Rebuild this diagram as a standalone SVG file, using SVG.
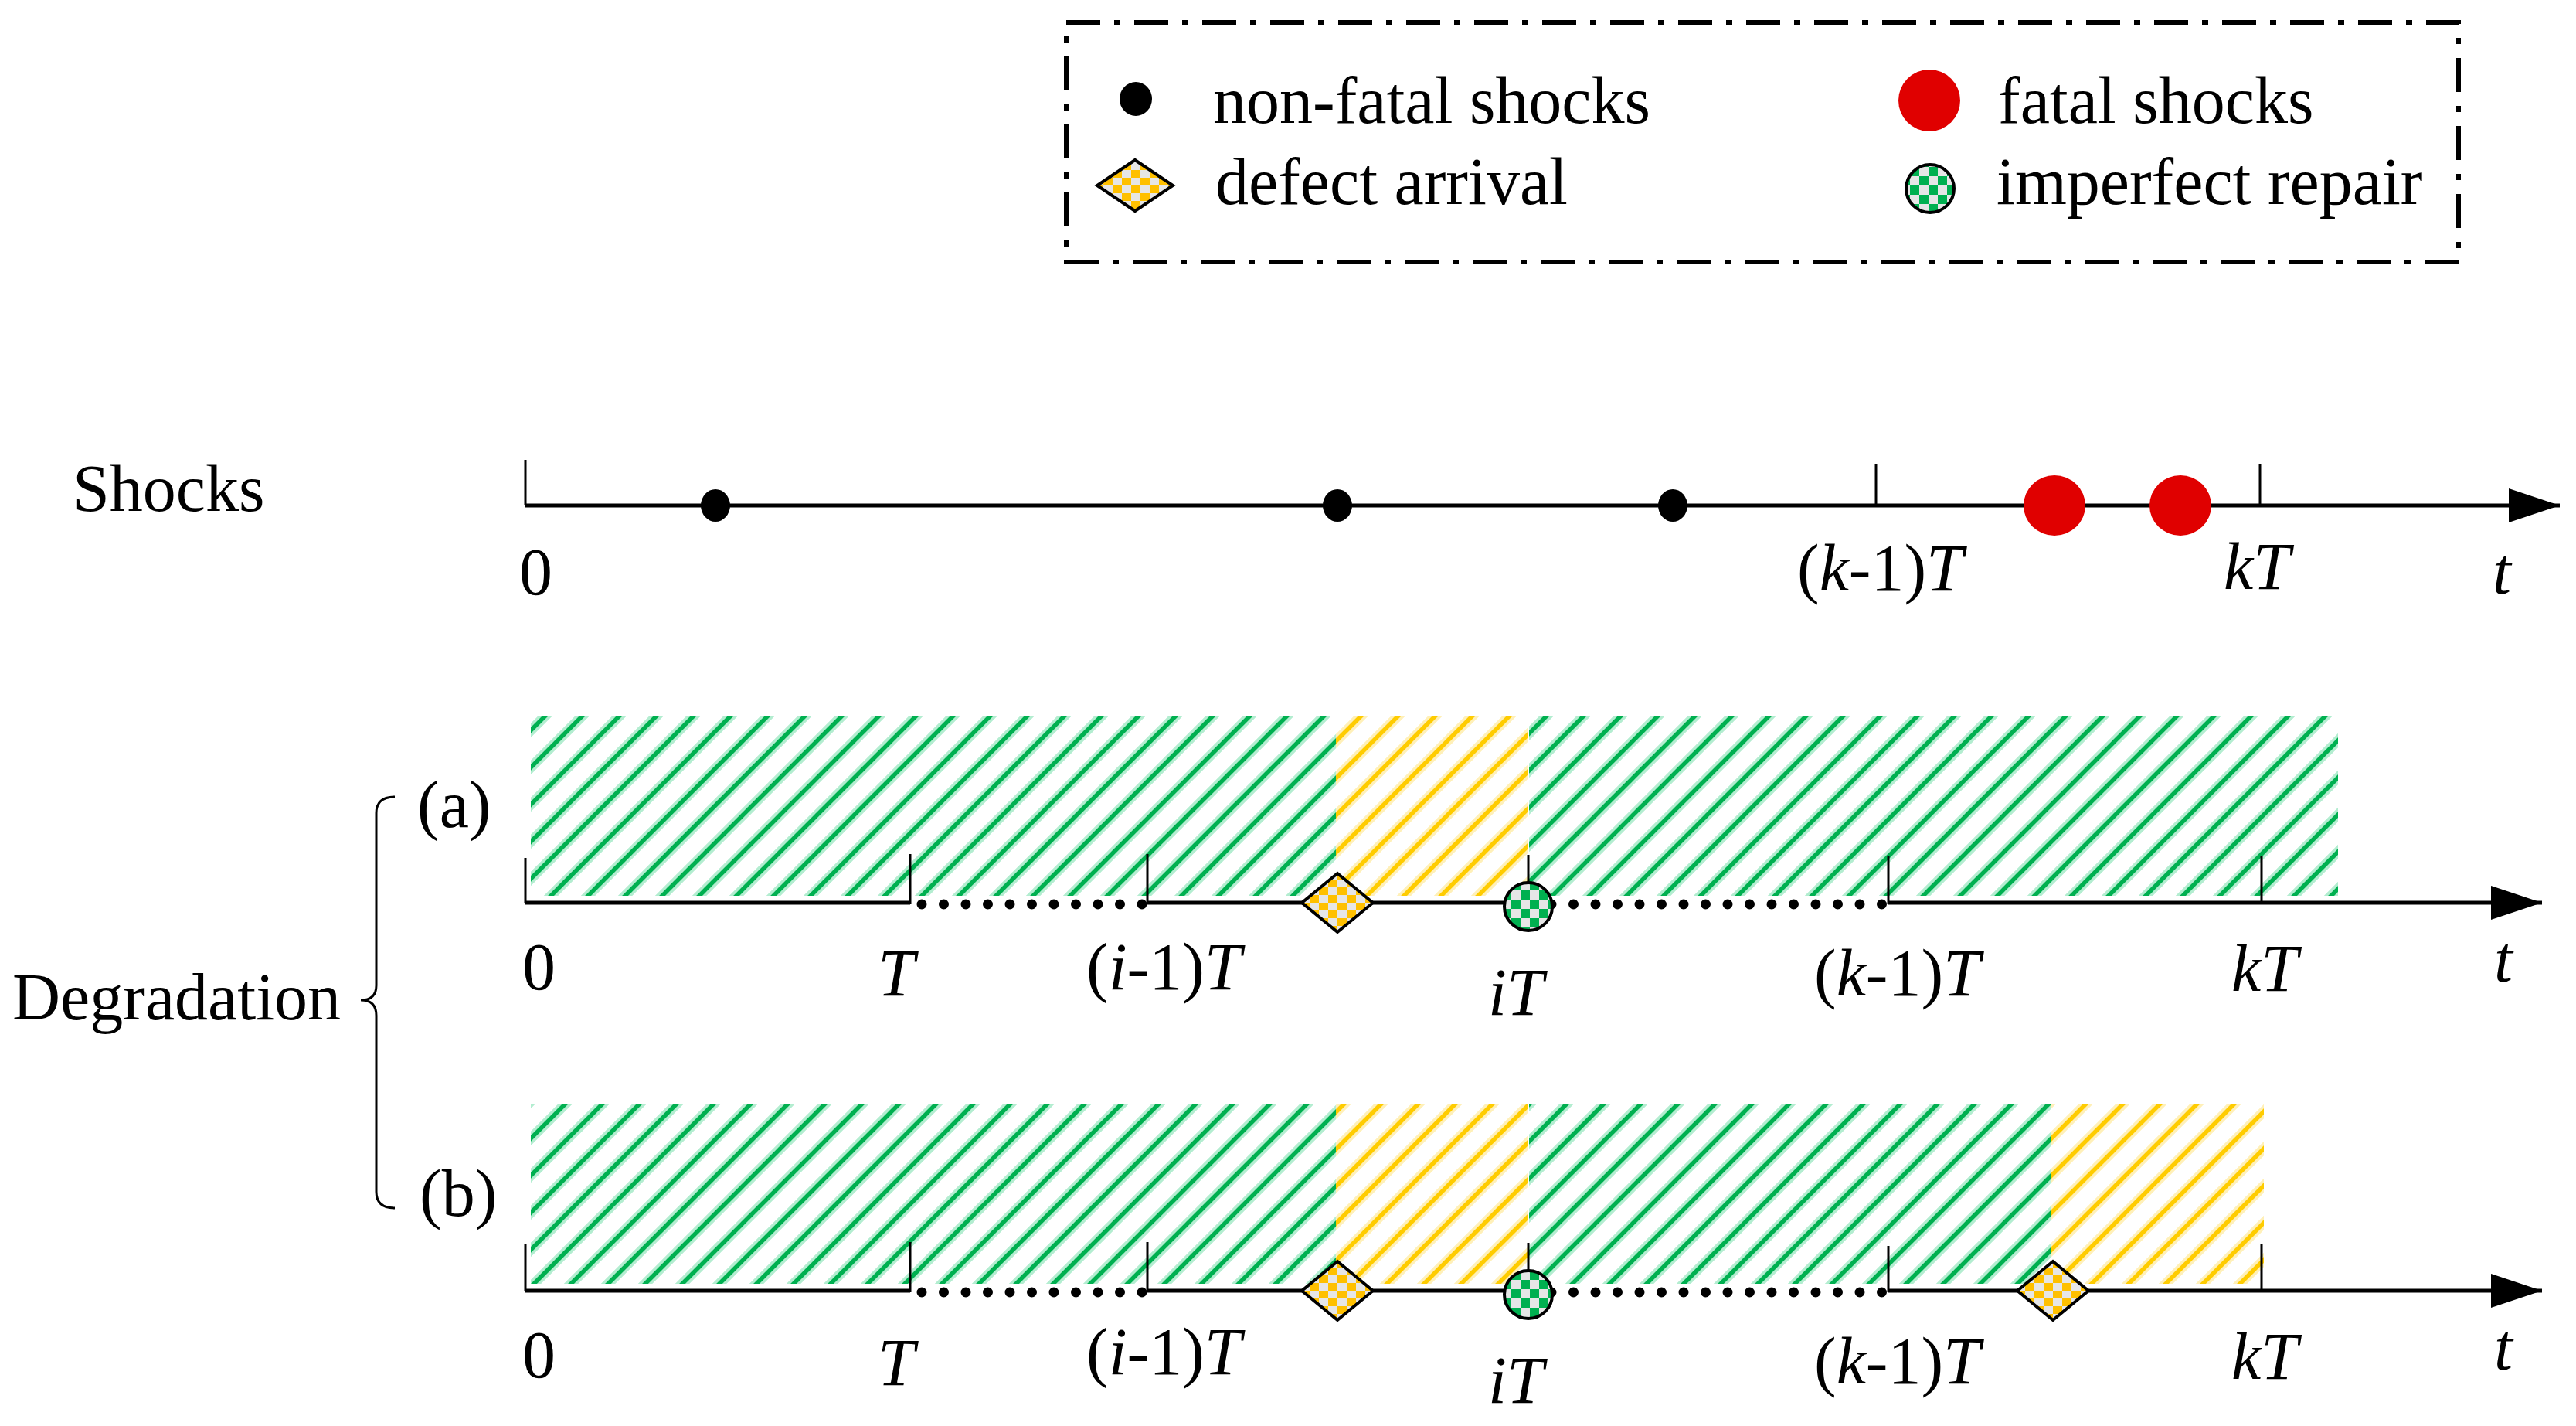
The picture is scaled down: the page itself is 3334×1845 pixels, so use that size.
<svg xmlns="http://www.w3.org/2000/svg" width="3334" height="1845" viewBox="0 0 3334 1845">
<style>
text{font-family:"Liberation Serif","Times New Roman",serif;font-size:86px;fill:#000}
.it{font-style:italic}
.ax{stroke:#000;stroke-width:5;fill:none}
.tick{stroke:#000;stroke-width:3;fill:none}
.dots{stroke:#000;stroke-width:13;stroke-linecap:round;stroke-dasharray:0 28.5;fill:none}
.brace{stroke:#000;stroke-width:3;fill:none}
</style>
<defs>
<pattern id="hg" patternUnits="userSpaceOnUse" width="48" height="48">
<g stroke="#B3EDD0" stroke-width="13"><path d="M-24 24L24 -24M0 48L48 0M24 72L72 24"/></g>
<g stroke="#00B050" stroke-width="5.5"><path d="M-24 24L24 -24M0 48L48 0M24 72L72 24"/></g>
</pattern>
<pattern id="hy" patternUnits="userSpaceOnUse" width="48" height="48">
<g stroke="#FFF0B8" stroke-width="13"><path d="M-24 24L24 -24M0 48L48 0M24 72L72 24"/></g>
<g stroke="#FFCC00" stroke-width="5.5"><path d="M-24 24L24 -24M0 48L48 0M24 72L72 24"/></g>
</pattern>
<pattern id="cy" patternUnits="userSpaceOnUse" width="24" height="20">
<rect width="24" height="20" fill="#E6E6E6"/><rect width="12" height="10" fill="#FFC000"/><rect x="12" y="10" width="12" height="10" fill="#FFC000"/>
</pattern>
<pattern id="cg" patternUnits="userSpaceOnUse" width="24" height="24">
<rect width="24" height="24" fill="#E6E6E6"/><rect width="12" height="12" fill="#00B050"/><rect x="12" y="12" width="12" height="12" fill="#00B050"/>
</pattern>
<marker id="arr" markerUnits="userSpaceOnUse" markerWidth="70" markerHeight="50" refX="66" refY="22" orient="auto">
<path d="M0 0L66 22L0 44Z" fill="#000"/>
</marker>
<path id="dia" d="M0 -38L46 0L0 38L-46 0Z" stroke="#000" stroke-width="4"/>
</defs>
<rect width="3334" height="1845" fill="#fff"/>

<g id="legend">
<rect x="1380" y="29" width="1802" height="310" fill="none" stroke="#000" stroke-width="6" stroke-dasharray="44 18 8 18"/>
<ellipse cx="1470" cy="128" rx="21" ry="22" fill="#000"/>
<text x="1570" y="159">non-fatal shocks</text>
<circle cx="2497" cy="130" r="40" fill="#E00000"/>
<text x="2586" y="159">fatal shocks</text>
<path d="M1469 207L1518 240L1469 273L1420 240Z" fill="url(#cy)" stroke="#000" stroke-width="4"/>
<text x="1573" y="264">defect arrival</text>
<circle cx="2498" cy="244" r="31" fill="url(#cg)" stroke="#000" stroke-width="4"/>
<text x="2584" y="264">imperfect repair</text>
</g>

<g id="hatching">
<rect x="687" y="927" width="1042" height="232" fill="url(#hg)"/>
<rect x="1729" y="927" width="248" height="232" fill="url(#hy)"/>
<rect x="1979" y="927" width="1047" height="232" fill="url(#hg)"/>
<rect x="687" y="1429" width="1042" height="232" fill="url(#hg)"/>
<rect x="1729" y="1429" width="248" height="232" fill="url(#hy)"/>
<rect x="1979" y="1429" width="675" height="232" fill="url(#hg)"/>
<rect x="2654" y="1429" width="276" height="232" fill="url(#hy)"/>
</g>

<g id="connectors">
<line class="ax" x1="680" y1="654" x2="3313" y2="654" marker-end="url(#arr)"/>
<line class="tick" x1="680" y1="595" x2="680" y2="654"/>
<line class="tick" x1="2428" y1="600" x2="2428" y2="656"/>
<line class="tick" x1="2925" y1="600" x2="2925" y2="656"/>

<line class="ax" x1="680" y1="1168" x2="1178" y2="1168"/>
<line class="dots" x1="1193" y1="1170" x2="1480" y2="1170"/>
<line class="ax" x1="1485" y1="1168" x2="1978" y2="1168"/>
<line class="dots" x1="2008" y1="1170" x2="2437" y2="1170"/>
<line class="ax" x1="2444" y1="1168" x2="3290" y2="1168" marker-end="url(#arr)"/>
<line class="tick" x1="680" y1="1110" x2="680" y2="1168"/>
<line class="tick" x1="1178" y1="1105" x2="1178" y2="1170"/>
<line class="tick" x1="1485" y1="1105" x2="1485" y2="1170"/>
<line class="tick" x1="1978" y1="1106" x2="1978" y2="1145"/>
<line class="tick" x1="2444" y1="1107" x2="2444" y2="1170"/>
<line class="tick" x1="2927" y1="1107" x2="2927" y2="1170"/>

<line class="ax" x1="680" y1="1670" x2="1178" y2="1670"/>
<line class="dots" x1="1193" y1="1672" x2="1480" y2="1672"/>
<line class="ax" x1="1485" y1="1670" x2="1978" y2="1670"/>
<line class="dots" x1="2008" y1="1672" x2="2437" y2="1672"/>
<line class="ax" x1="2444" y1="1670" x2="3290" y2="1670" marker-end="url(#arr)"/>
<line class="tick" x1="680" y1="1610" x2="680" y2="1670"/>
<line class="tick" x1="1178" y1="1607" x2="1178" y2="1672"/>
<line class="tick" x1="1485" y1="1607" x2="1485" y2="1672"/>
<line class="tick" x1="1978" y1="1608" x2="1978" y2="1647"/>
<line class="tick" x1="2444" y1="1612" x2="2444" y2="1672"/>
<line class="tick" x1="2927" y1="1610" x2="2927" y2="1672"/>

<path class="brace" d="M511 1031Q487 1031 487 1052L487 1275Q487 1294 467 1294Q487 1294 487 1314L487 1542Q487 1563 511 1563"/>
</g>

<g id="shocks">
<text x="94" y="661">Shocks</text>
<ellipse cx="926" cy="654" rx="19" ry="21" fill="#000"/>
<ellipse cx="1731" cy="654" rx="19" ry="21" fill="#000"/>
<ellipse cx="2165" cy="654" rx="19" ry="21" fill="#000"/>
<ellipse cx="2659" cy="654" rx="40" ry="39" fill="#E00000"/>
<ellipse cx="2822" cy="654" rx="40" ry="39" fill="#E00000"/>
<text x="672" y="769">0</text>
<text x="2326" y="764">(<tspan class="it">k</tspan>-1)<tspan class="it">T</tspan></text>
<text x="2878" y="762"><tspan class="it">kT</tspan></text>
<text x="3226" y="768" class="it">t</text>
</g>

<g id="degradation">
<text x="16" y="1319">Degradation</text>
<text x="540" y="1070">(a)</text>
<text x="543" y="1573">(b)</text>
</g>

<g id="row-a">
<use href="#dia" x="1731" y="1168" fill="url(#cy)"/>
<ellipse cx="1978" cy="1173" rx="31" ry="31" fill="url(#cg)" stroke="#000" stroke-width="4"/>
<text x="676" y="1280">0</text>
<text x="1136" y="1288" class="it">T</text>
<text x="1406" y="1280">(<tspan class="it">i</tspan>-1)<tspan class="it">T</tspan></text>
<text x="1926" y="1313"><tspan class="it">iT</tspan></text>
<text x="2348" y="1288">(<tspan class="it">k</tspan>-1)<tspan class="it">T</tspan></text>
<text x="2888" y="1282" class="it">kT</text>
<text x="3228" y="1270" class="it">t</text>
</g>

<g id="row-b">
<use href="#dia" x="1731" y="1670" fill="url(#cy)"/>
<use href="#dia" x="2657" y="1670" fill="url(#cy)"/>
<ellipse cx="1978" cy="1675" rx="31" ry="31" fill="url(#cg)" stroke="#000" stroke-width="4"/>
<text x="676" y="1782">0</text>
<text x="1136" y="1792" class="it">T</text>
<text x="1406" y="1778">(<tspan class="it">i</tspan>-1)<tspan class="it">T</tspan></text>
<text x="1926" y="1815"><tspan class="it">iT</tspan></text>
<text x="2348" y="1790">(<tspan class="it">k</tspan>-1)<tspan class="it">T</tspan></text>
<text x="2888" y="1784" class="it">kT</text>
<text x="3228" y="1772" class="it">t</text>
</g>
</svg>
